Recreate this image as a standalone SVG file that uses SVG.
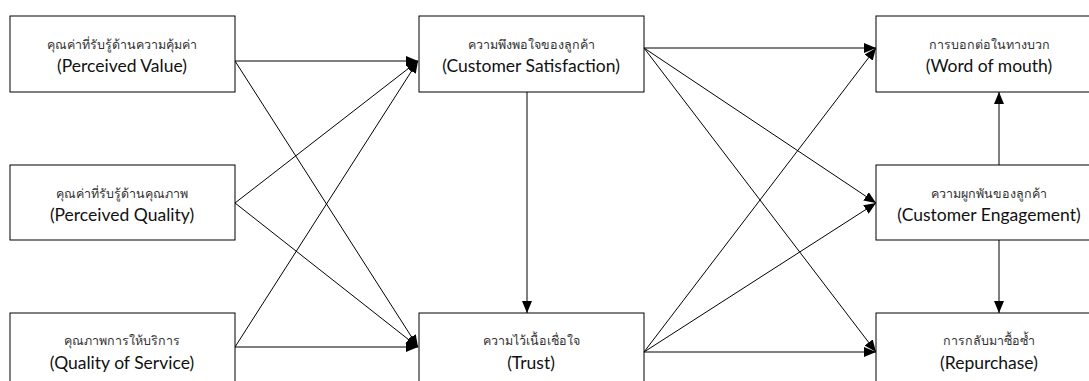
<svg xmlns="http://www.w3.org/2000/svg" width="1089" height="381" viewBox="0 0 1089 381">
<style>
.box{fill:#fff;stroke:#000;stroke-width:1}
.th{font-family:Lato,"Noto Sans",sans-serif;font-size:12.5px;fill:#333;text-anchor:middle}
.en{font-family:Lato,"Noto Sans",sans-serif;font-size:17.5px;fill:#111;text-anchor:middle}
.c line{stroke:#000;stroke-width:1;marker-end:url(#arr)}
</style>
<defs>
<marker id="arr" viewBox="0 0 12 10" refX="12" refY="5" markerWidth="12" markerHeight="10" markerUnits="userSpaceOnUse" orient="auto">
<path d="M0,0 L12,5 L0,10 Z" fill="#000"/>
</marker>
</defs>
<rect width="1089" height="381" fill="#fff"/>
<g class="c" id="connectors">
<line x1="235" y1="61" x2="418" y2="61"/>
<line x1="235" y1="61" x2="418" y2="347"/>
<line x1="235" y1="203" x2="418" y2="61"/>
<line x1="235" y1="203" x2="418" y2="347"/>
<line x1="235" y1="347" x2="418" y2="61"/>
<line x1="235" y1="347" x2="418" y2="347"/>
<line x1="527" y1="92" x2="527" y2="313"/>
<line x1="644" y1="48" x2="876" y2="48"/>
<line x1="644" y1="48" x2="876" y2="203"/>
<line x1="644" y1="48" x2="876" y2="352"/>
<line x1="644" y1="352" x2="876" y2="48"/>
<line x1="644" y1="352" x2="876" y2="203"/>
<line x1="644" y1="352" x2="876" y2="352"/>
<line x1="999" y1="165" x2="999" y2="92"/>
<line x1="999" y1="240" x2="999" y2="313"/>
</g>
<g id="pv"><rect class="box" x="10" y="16" width="225" height="76"/><text class="th" x="122" y="49">คุณค่าที่รับรู้ด้านความคุ้มค่า</text><text class="en" x="122" y="72">(Perceived Value)</text></g>
<g id="pq"><rect class="box" x="10" y="165" width="225" height="75"/><text class="th" x="122" y="198">คุณค่าที่รับรู้ด้านคุณภาพ</text><text class="en" x="122" y="221">(Perceived Quality)</text></g>
<g id="qos"><rect class="box" x="10" y="313" width="225" height="76"/><text class="th" x="122" y="345">คุณภาพการให้บริการ</text><text class="en" x="122" y="369">(Quality of Service)</text></g>
<g id="cs"><rect class="box" x="419" y="16" width="225" height="76"/><text class="th" x="531" y="49">ความพึงพอใจของลูกค้า</text><text class="en" x="531" y="72">(Customer Satisfaction)</text></g>
<g id="trust"><rect class="box" x="419" y="313" width="225" height="76"/><text class="th" x="531" y="345">ความไว้เนื้อเชื่อใจ</text><text class="en" x="531" y="369">(Trust)</text></g>
<g id="wom"><rect class="box" x="876" y="16" width="225" height="76"/><text class="th" x="989" y="49">การบอกต่อในทางบวก</text><text class="en" x="989" y="72">(Word of mouth)</text></g>
<g id="ce"><rect class="box" x="876" y="165" width="225" height="75"/><text class="th" x="989" y="198">ความผูกพันของลูกค้า</text><text class="en" x="989" y="221">(Customer Engagement)</text></g>
<g id="rep"><rect class="box" x="876" y="313" width="225" height="76"/><text class="th" x="989" y="345">การกลับมาซื้อซ้ำ</text><text class="en" x="989" y="369">(Repurchase)</text></g>
</svg>
